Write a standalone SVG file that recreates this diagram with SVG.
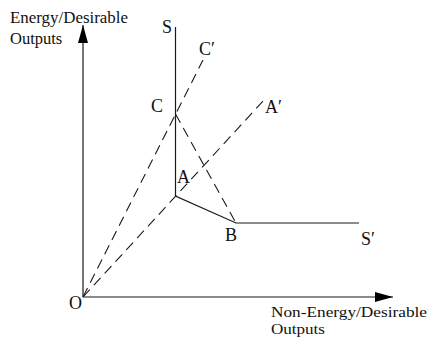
<svg xmlns="http://www.w3.org/2000/svg" width="432" height="339" viewBox="0 0 432 339">
<style>
text{font-family:"Liberation Serif","Times New Roman",serif;fill:#111}
.lab{font-size:18px}
.ax{font-size:16.5px}
.axb{font-size:15px}
.ln{stroke:#1a1a1a;stroke-width:1.2;fill:none}
.ds{stroke:#1a1a1a;stroke-width:1.1;fill:none;stroke-dasharray:10,6}
</style>
<defs>
<marker id="arr" viewBox="0 0 18 10" refX="18" refY="5" markerWidth="18" markerHeight="10" markerUnits="userSpaceOnUse" orient="auto">
<path d="M0,0 L18,5 L0,10 Z" fill="#000"/>
</marker>
</defs>
<rect width="432" height="339" fill="#fff"/>
<g id="connectors">
<line class="ln" x1="83" y1="297" x2="83" y2="25" marker-end="url(#arr)"/>
<line class="ln" x1="83" y1="297" x2="393" y2="297" marker-end="url(#arr)"/>
<polyline class="ln" points="175.5,27 175.5,196 236,223 359,223"/>
<line class="ds" x1="83" y1="297" x2="203" y2="60"/>
<line class="ds" x1="83" y1="297" x2="264" y2="100"/>
<line class="ds" x1="175.5" y1="114" x2="236" y2="223"/>
</g>
<g id="axis-y-label"><text class="ax" x="10" y="23" textLength="118" lengthAdjust="spacingAndGlyphs">Energy/Desirable</text><text class="ax" x="10" y="44">Outputs</text></g>
<g id="axis-x-label"><text class="axb" x="271" y="317" textLength="156" lengthAdjust="spacingAndGlyphs">Non-Energy/Desirable</text><text class="axb" x="271" y="334" textLength="54" lengthAdjust="spacingAndGlyphs">Outputs</text></g>
<g id="node-O"><text class="lab" x="69" y="309">O</text></g>
<g id="node-S"><text class="lab" x="162" y="33">S</text></g>
<g id="node-C1"><text class="lab" x="199" y="55">C′</text></g>
<g id="node-C"><text class="lab" x="151" y="112">C</text></g>
<g id="node-A1"><text class="lab" x="265" y="113">A′</text></g>
<g id="node-A"><text class="lab" x="177" y="183">A</text></g>
<g id="node-B"><text class="lab" x="225" y="241">B</text></g>
<g id="node-S1"><text class="lab" x="361" y="245">S′</text></g>
</svg>
